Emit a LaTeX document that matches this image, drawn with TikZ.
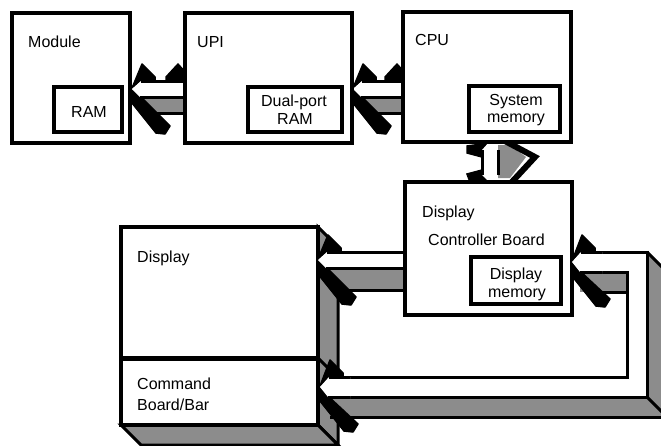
\documentclass[tikz,border=0pt]{standalone}
\usepackage{fontspec}
\setmainfont{Liberation Sans}
\newcommand\myheadL[5]{% tip x, tip y, half width, depth, length
\begin{scope}[shift={(#1,#2)}]
 \fill[shd] (2,#3) -- (#5,#3) -- (#5,{#3+#4}) -- ({8+0.8*#4},{#3+#4}) -- cycle;
 \draw[line width=3pt] ({8+0.8*#4},{#3+#4}) -- (#5,{#3+#4});
 \filldraw[line width=1.5pt, line join=round] (0,1) -- (9,#3) -- (38,37) -- (33,45) -- (24,44) -- (0,14) -- cycle;
 \filldraw[line width=1.5pt, line join=round] (0,-1) -- (10,{-#3-17}) -- (23,{-#3-4}) -- (23,-#3) -- (8,-#3) -- cycle;
 \fill[white] (0,0) -- (9,-#3) -- (#5,-#3) -- (#5,#3) -- (8,#3) -- cycle;
 \draw[line width=3pt] (9,-#3) -- (#5,-#3) (8,#3) -- (#5,#3);
\end{scope}}
\newcommand\mybarbR[3]{% end x, centre y, half width
\begin{scope}[shift={(#1,#2)},xscale=-1]
 \filldraw[line width=1.5pt, line join=round] (0,{-#3-8}) -- (8,{-#3-17}) -- (20,{-#3-4}) -- (20,-#3) -- (0,-#3) -- cycle;
\end{scope}}
\begin{document}
\begin{tikzpicture}[x=1pt,y=-1pt,
  box/.style={draw, line width=4pt, fill=white, rectangle, outer sep=0pt, inner sep=0pt, anchor=north west},
  ibox/.style={draw, line width=3.2pt, fill=white, rectangle, outer sep=0pt, inner sep=0pt, anchor=north west},
  lbl/.style={anchor=base west, inner sep=0pt, font=\fontsize{16}{18}\selectfont},
  clbl/.style={anchor=base, inner sep=0pt, font=\fontsize{16}{18}\selectfont},
  shd/.style={fill=black!45},
  edge/.style={line width=3pt, line join=miter}]
\useasboundingbox (0,0) rectangle (661,445);
\fill[white] (0,0) rectangle (661,445);

% ---- Display / Command board block (3D)
\filldraw[shd, edge] (318,227) -- (338,247) -- (338,445) -- (318,425) -- cycle;
\filldraw[shd, edge] (121,425) -- (318,425) -- (338,445) -- (141,445) -- cycle;
\draw[edge] (318,358) -- (338,378);
\node[box, line width=4.5pt, minimum width=197pt, minimum height=131pt] (disp) at (121,227) {};
\node[box, line width=4.5pt, minimum width=197pt, minimum height=66pt] (cmd) at (121,359) {};
\node[lbl] (tdisp) at (137,262) {Display};
\node[lbl] (tcmd1) at (137,389) {Command};
\node[lbl] (tcmd2) at (137,410) {Board/Bar};

% ---- arrow Display Controller -> Display
\myheadL{318}{260}{8}{22}{95}

% ---- vertical arrow CPU <-> Display Controller
\fill[shd] (498,145) -- (510,145) -- (526,157) -- (510,178) -- (498,178) -- cycle;
\draw[line width=6pt, line join=miter] (505,141) -- (535,157) -- (510,184);
\filldraw[line width=1.5pt] (489,143) -- (467,146) -- (467,153) -- (482,157) -- (482,150) -- cycle;
\filldraw[line width=1.5pt] (491,182) -- (470,182) -- (467,174) -- (482,170) -- (482,176) -- cycle;
\fill[white] (490,141) -- (498,150) -- (498,175) -- (491,184) -- (482,175) -- (482,150) -- cycle;
\draw[line width=3pt] (498,150) -- (498,175) (482,150) -- (482,175);

% ---- top row arrows
\myheadL{132}{89}{8}{16}{54}
\mybarbR{186}{89}{8}
\myheadL{353}{89}{8}{16}{52}
\mybarbR{405}{89}{8}

% ---- top row boxes
\node[box, minimum width=118pt, minimum height=130pt] (module) at (12,13) {};
\node[ibox, minimum width=68pt, minimum height=45pt] (ram) at (54,87) {};
\node[lbl] (tmod) at (28,47) {Module};
\node[clbl] (tram) at (89,117) {RAM};

\node[box, minimum width=167pt, minimum height=130pt] (upi) at (185,13) {};
\node[ibox, minimum width=94pt, minimum height=45pt] (dpram) at (248,87) {};
\node[lbl] (tupi) at (197,47) {UPI};
\node[clbl] (tdp1) at (294,106) {Dual-port};
\node[clbl] (tdp2) at (295,124) {RAM};

\node[box, minimum width=168pt, minimum height=130pt] (cpu) at (403,12) {};
\node[ibox, minimum width=91pt, minimum height=46pt] (sysmem) at (469,86) {};
\node[lbl] (tcpu) at (415,45) {CPU};
\node[clbl] (tsm1) at (516,105) {System};
\node[clbl] (tsm2) at (516,122) {memory};

% ---- Display controller board
\node[box, minimum width=167pt, minimum height=133pt] (dcb) at (405,182) {};
\node[ibox, minimum width=90pt, minimum height=47pt] (dmem) at (471,257) {};
\node[lbl] (tdcb1) at (422,217) {Display};
\node[lbl] (tdcb2) at (428,245) {Controller Board};
\node[clbl] (tdm1) at (516,279) {Display};
\node[clbl] (tdm2) at (517,297) {memory};

% ---- L-shaped arrow Display Controller <-> Command Board
\fill[shd] (330,397) -- (647,397) -- (667,417) -- (330,417) -- cycle;
\fill[shd] (647,252) -- (667,272) -- (667,417) -- (647,397) -- cycle;
\fill[shd] (580,272) -- (627,272) -- (627,292) -- (580,292) -- cycle;
\draw[edge] (330,417) -- (667,417);
\draw[edge] (647,252) -- (667,272);
\draw[edge] (647,397) -- (667,417);
\draw[edge] (590,292) -- (627,292);
\fill[white] (330,377) -- (627,377) -- (627,272) -- (585,272) -- (585,252) -- (647,252) -- (647,397) -- (330,397) -- cycle;
\draw[edge] (330,377) -- (627,377) -- (627,272) -- (585,272);
\draw[edge] (585,252) -- (647,252) -- (647,397) -- (330,397);
\myheadL{320}{387}{10}{21}{30}
\myheadL{572}{262}{10}{20}{30}
\end{tikzpicture}
\end{document}
